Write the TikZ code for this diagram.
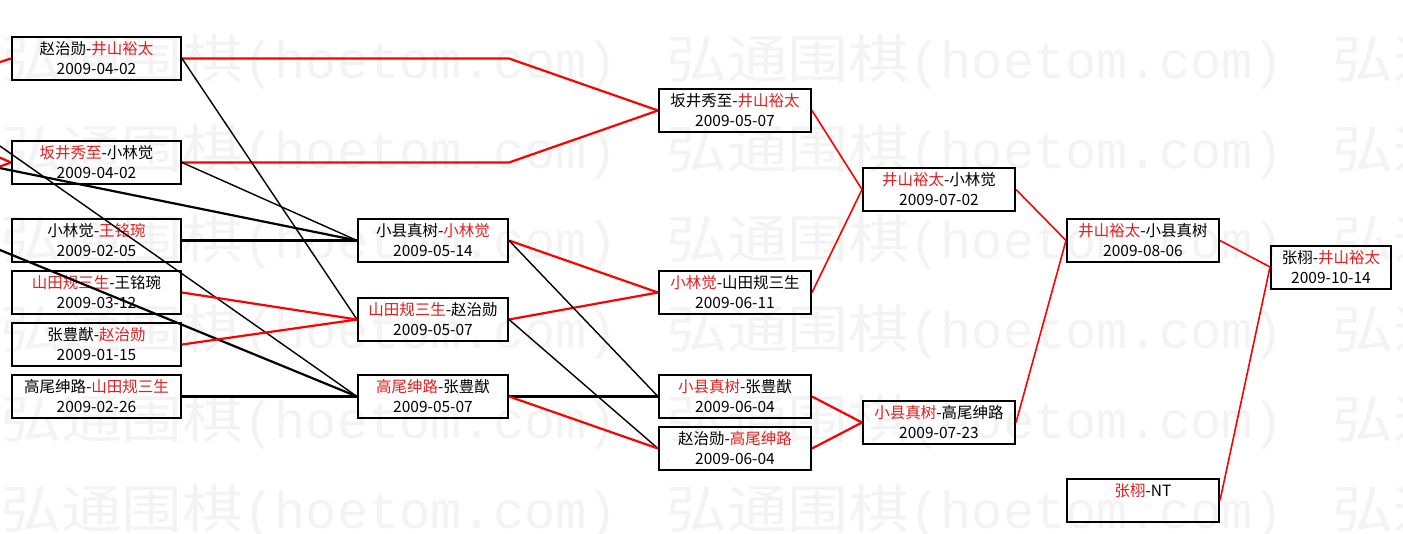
\documentclass[tikz,border=0pt]{standalone}
\usepackage{fontspec}
\usepackage{xcolor}
\usepackage{graphicx}
\newfontfamily\cjk{Noto Sans CJK SC}
\newfontfamily\wmmono{Liberation Mono}
\definecolor{winred}{RGB}{226,30,30}
\definecolor{wmgray}{RGB}{243,243,243}
\newcommand{\win}[1]{\textcolor{winred}{#1}}
\newcommand{\hoetom}{\scalebox{1.17}[1]{弘通围棋}{\wmmono (hoetom.com)}}

\begin{document}
\begin{tikzpicture}
    [x=1pt, y=-1pt,
     game/.style={draw, line width=2pt, inner sep=0pt, minimum height=43pt,
                  align=center, font=\cjk\fontsize{15.5}{20}\selectfont},
     wm/.style={inner sep=0pt, anchor=west, text=wmgray,
                font=\cjk\fontsize{52}{52}\selectfont},
     win/.style={red, line width=2.2pt},
     winthin/.style={red, line width=1.6pt},
     lose/.style={black, line width=2.2pt},
     losethin/.style={black, line width=1.4pt}]
    \useasboundingbox (0,0) rectangle (1403,533);
    \clip (0,0) rectangle (1403,533);
    % watermark
    \foreach \y in {62,152,...,512}
      \foreach \x in {0,666,1332}
        \node[wm] at (\x,\y) {\hoetom};
    % first column
    \node[game, minimum width=169pt] (a1) at (96.5,58.5) {赵治勋-\win{井山裕太}\\2009-04-02};
    \node[game, minimum width=169pt] (a2) at (96.5,162.5) {\win{坂井秀至}-小林觉\\2009-04-02};
    \node[game, minimum width=169pt] (a3) at (96.5,240.5) {小林觉-\win{王铭琬}\\2009-02-05};
    \node[game, minimum width=169pt] (a4) at (96.5,292.5) {\win{山田规三生}-王铭琬\\2009-03-12};
    \node[game, minimum width=169pt] (a5) at (96.5,344.5) {张豊猷-\win{赵治勋}\\2009-01-15};
    \node[game, minimum width=169pt] (a6) at (96.5,396.5) {高尾绅路-\win{山田规三生}\\2009-02-26};
    % second column
    \node[game, minimum width=150pt] (b1) at (433,240.5) {小县真树-\win{小林觉}\\2009-05-14};
    \node[game, minimum width=150pt] (b2) at (433,319.5) {\win{山田规三生}-赵治勋\\2009-05-07};
    \node[game, minimum width=150pt] (b3) at (433,396.5) {\win{高尾绅路}-张豊猷\\2009-05-07};
    % third column
    \node[game, minimum width=152pt] (c1) at (735,110.5) {坂井秀至-\win{井山裕太}\\2009-05-07};
    \node[game, minimum width=152pt] (c2) at (735,292.5) {\win{小林觉}-山田规三生\\2009-06-11};
    \node[game, minimum width=152pt] (c3) at (735,396.5) {\win{小县真树}-张豊猷\\2009-06-04};
    \node[game, minimum width=152pt] (c4) at (735,448.5) {赵治勋-\win{高尾绅路}\\2009-06-04};
    % fourth column
    \node[game, minimum width=152pt] (d1) at (939,189.5) {\win{井山裕太}-小林觉\\2009-07-02};
    \node[game, minimum width=152pt] (d2) at (939,422.5) {\win{小县真树}-高尾绅路\\2009-07-23};
    % fifth column
    \node[game, minimum width=152pt] (e1) at (1143,240.5) {\win{井山裕太}-小县真树\\2009-08-06};
    \node[game, minimum width=152pt] (e2) at (1143,500.5) {\win{张栩}-NT\\\phantom{0}};
    % final
    \node[game, minimum width=120pt] (f) at (1331,267) {张栩-\win{井山裕太}\\2009-10-14};
    % lines coming in from the left edge
    \coordinate (o1) at (-40,118);
    \coordinate (o2) at (-40,160);
    \coordinate (o3) at (-40,233.6);
    \coordinate (o4) at (-40,75);
    \coordinate (o5) at (-40,140);
    \coordinate (o6) at (-40,181);
    \draw[losethin] (o1) -- (b3.west);
    \draw[lose] (o2) -- (b1.west);
    \draw[lose] (o3) -- (b3.west);
    \draw[win] (o4) -- (a1.west);
    \draw[win] (o5) -- (a2.west);
    \draw[win] (o6) -- (a2.west);
    % first column to the next
    \draw[win] (a1.east) -- (a1.east -| b1.east) -- (c1.west);
    \draw[win] (a2.east) -- (a2.east -| b1.east) -- (c1.west);
    \draw[losethin] (a1.east) -- (b2.west);
    \draw[losethin] (a2.east) -- (b1.west);
    \draw[lose] (a3.east) -- (b1.west);
    \draw[win] (a4.east) -- (b2.west);
    \draw[win] (a5.east) -- (b2.west);
    \draw[lose] (a6.east) -- (b3.west);
    % second column
    \draw[win] (b1.east) -- (c2.west);
    \draw[win] (b2.east) -- (c2.west);
    \draw[losethin] (b1.east) -- (c3.west);
    \draw[losethin] (b2.east) -- (c4.west);
    \draw[lose] (b3.east) -- (c3.west);
    \draw[win] (b3.east) -- (c4.west);
    % third column
    \draw[winthin] (c1.east) -- (d1.west);
    \draw[winthin] (c2.east) -- (d1.west);
    \draw[win] (c3.east) -- (d2.west);
    \draw[win] (c4.east) -- (d2.west);
    % fourth and fifth
    \draw[winthin] (d1.east) -- (e1.west);
    \draw[winthin] (d2.east) -- (e1.west);
    \draw[winthin] (e1.east) -- (f.west);
    \draw[winthin] (e2.east) -- (f.west);
\end{tikzpicture}
\end{document}
